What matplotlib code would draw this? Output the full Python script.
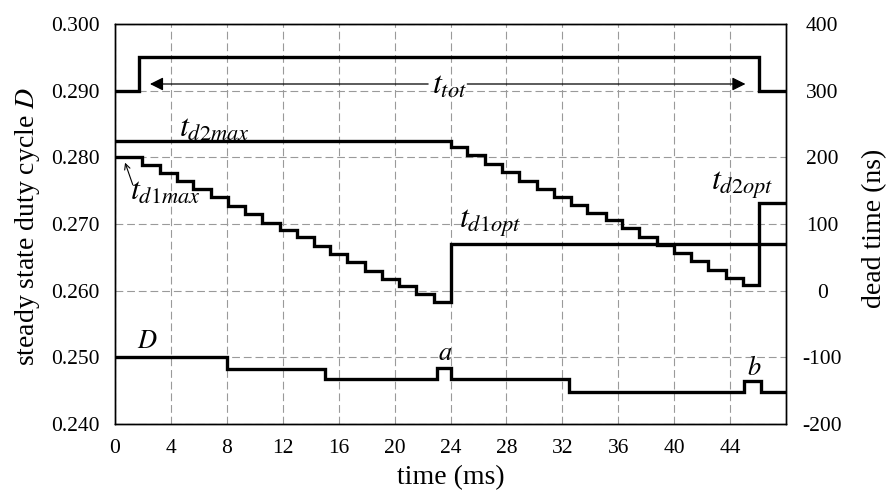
import matplotlib
matplotlib.use('Agg')
import matplotlib.pyplot as plt

# dead time t_d1 (ns): step start times (ms) and levels
d1_t = [0, 1.9, 3.2, 4.4, 5.6, 6.9, 8.1, 9.3, 10.5, 11.8, 13.0, 14.2, 15.4,
        16.6, 17.9, 19.1, 20.3, 21.5, 22.8, 24.0, 48]
d1_ns = [200, 189, 177, 164, 152, 140, 127, 115, 102, 91, 80, 67, 55,
         43, 30, 18, 7, -5, -17, 70, 70]

# dead time t_d2 (ns)
d2_t = [0, 24.0, 25.2, 26.5, 27.7, 28.9, 30.2, 31.4, 32.6, 33.8, 35.1, 36.3,
        37.5, 38.8, 40.0, 41.2, 42.4, 43.7, 44.9, 46.05, 48]
d2_ns = [224, 215, 203, 190, 178, 165, 153, 141, 128, 116, 106, 94,
         81, 69, 56, 44, 31, 19, 9, 132, 132]

# t_tot window signal (ns axis)
tot_t = [0, 1.75, 46.05, 48]
tot_ns = [300, 350, 300, 300]
tot_arrow = [2.5, 22.4, 25.2, 45.1]
tot_arrow_y = 310

# steady state duty cycle D
D_t = [0, 8.0, 15.0, 23.0, 24.0, 32.5, 45.0, 46.2, 48]
D_val = [0.2500, 0.2482, 0.2467, 0.2484, 0.2467, 0.2448, 0.2465, 0.2448, 0.2448]

x_ticks = list(range(0, 48, 4))
left_ticks = [0.24, 0.25, 0.26, 0.27, 0.28, 0.29, 0.30]
right_ticks = [-200, -100, 0, 100, 200, 300, 400]

plt.rcParams['font.family'] = ['Liberation Serif', 'DejaVu Serif']
plt.rcParams['mathtext.fontset'] = 'stix'

fig = plt.figure(figsize=(8.91, 4.92), dpi=100)
ax = fig.add_axes([115/891, 1 - 424/492, 671/891, 400/492])
ax2 = ax.twinx()

LW = 2.4
ax.step(D_t, D_val, where='post', color='k', lw=LW, solid_joinstyle='miter')
ax2.step(d1_t, d1_ns, where='post', color='k', lw=LW, solid_joinstyle='miter')
ax2.step(d2_t, d2_ns, where='post', color='k', lw=LW, solid_joinstyle='miter')
ax2.step(tot_t, tot_ns, where='post', color='k', lw=LW, solid_joinstyle='miter')

#t_tot arrow, split around the label
ap = dict(arrowstyle='-|>', lw=0.9, color='k', mutation_scale=20, shrinkA=0, shrinkB=0)
ax2.annotate('', xy=(tot_arrow[0], tot_arrow_y), xytext=(tot_arrow[1], tot_arrow_y), arrowprops=ap)
ax2.annotate('', xy=(tot_arrow[3], tot_arrow_y), xytext=(tot_arrow[2], tot_arrow_y), arrowprops=ap)

ax.set_xlim(0, 48)
ax.set_ylim(0.24, 0.30)
ax2.set_ylim(-200, 400)
ax.set_xticks(x_ticks)
ax.set_xticklabels([str(v) for v in x_ticks])
ax.set_yticks(left_ticks)
ax.set_yticklabels(['%.3f' % v for v in left_ticks])
ax2.set_yticks(right_ticks)
ax2.set_yticklabels([str(v) for v in right_ticks])

ax.grid(True, color='#9a9a9a', lw=0.8, ls=(0, (7, 3.5)))
ax.tick_params(axis='both', length=0, labelsize=15.5)
ax.tick_params(axis='x', pad=11)
ax.tick_params(axis='y', pad=11)
ax2.tick_params(axis='y', length=0, labelsize=15.5, pad=26)
for lab in ax2.get_yticklabels():
    lab.set_horizontalalignment('center')
for a in (ax, ax2):
    for s in a.spines.values():
        s.set_linewidth(1.0)
        s.set_color('k')

#ラベル
fs = 23
ax2.text(4.6, 231, r'$t_{\mathit{d2max}}$', fontsize=fs, va='baseline')
ax2.text(1.1, 137, r'$t_{\mathit{d1max}}$', fontsize=fs, va='baseline')
ax2.annotate('', xy=(0.72, 192), xytext=(1.27, 159),
             arrowprops=dict(arrowstyle='->', lw=0.8, color='k', shrinkA=0, shrinkB=0))
ax2.text(23.9, 306, r'$t_{\mathit{tot}}$', fontsize=fs, ha='center', va='center')
ax2.text(24.6, 95, r'$t_{\mathit{d1opt}}$', fontsize=fs, va='baseline')
ax2.text(42.6, 152, r'$t_{\mathit{d2opt}}$', fontsize=fs, va='baseline')
ax.text(1.6, 0.2514, r'$D$', fontsize=19, va='baseline')
ax.text(23.6, 0.2496, r'$a$', fontsize=19, ha='center', va='baseline')
ax.text(45.7, 0.2473, r'$b$', fontsize=19, ha='center', va='baseline')

fig.text(450.5/891, 1 - 478/492, 'time (ms)', fontsize=20, ha='center', va='center')
fig.text(28/891, 1 - 227/492, r'steady state duty cycle $D$', fontsize=20,
         rotation=90, ha='center', va='center')
fig.text(875/891, 1 - 228/492, 'dead time (ns)', fontsize=20,
         rotation=90, ha='center', va='center')

fig.savefig('out.png', dpi=100)
